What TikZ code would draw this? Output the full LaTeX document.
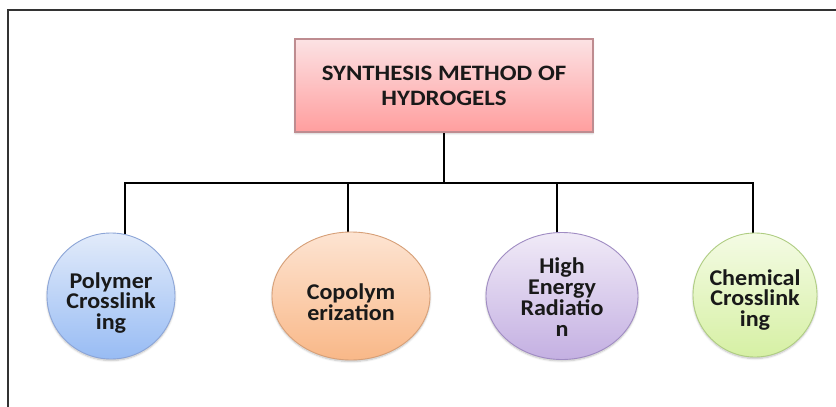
\documentclass[tikz,border=0pt]{standalone}
\usepackage{fontspec}
\setmainfont{Carlito}
\newfontfamily\boxfont[FakeStretch=1.13]{Carlito}
\newfontfamily\ovalfont[FakeStretch=1.07]{Carlito}
\usetikzlibrary{shapes.geometric,shadows.blur,backgrounds,positioning}

\definecolor{pinktop}{RGB}{252,226,228}
\definecolor{pinkbot}{RGB}{255,158,158}
\definecolor{pinkedge}{RGB}{190,140,144}
\definecolor{bluetop}{RGB}{226,235,250}
\definecolor{bluebot}{RGB}{152,188,244}
\definecolor{blueedge}{RGB}{140,165,215}
\definecolor{orangetop}{RGB}{253,228,210}
\definecolor{orangebot}{RGB}{249,184,136}
\definecolor{orangeedge}{RGB}{215,160,120}
\definecolor{purpletop}{RGB}{240,234,247}
\definecolor{purplebot}{RGB}{196,176,226}
\definecolor{purpleedge}{RGB}{160,140,195}
\definecolor{greentop}{RGB}{244,251,228}
\definecolor{greenbot}{RGB}{214,240,164}
\definecolor{greenedge}{RGB}{175,205,130}

\begin{document}
\begin{tikzpicture}[x=1pt, y=-1pt,
    method/.style={draw, ellipse, line width=0.9pt, inner sep=0pt,
        blur shadow={shadow xshift=0pt, shadow yshift=-1.5pt, shadow opacity=25, shadow blur steps=6}},
    methodtext/.style={inner sep=0pt, align=center, text=black!90,
        font=\ovalfont\fontsize{22.5}{20.8}\selectfont\bfseries},
    branch/.style={line width=2.8pt, line join=miter}]

    \useasboundingbox (0,0) rectangle (836,407);
    \draw [line width=1.6pt, black!80] (8,407) -- (8,10) -- (836,10);

    \node (synth) [draw=pinkedge, line width=1.2pt, top color=pinktop, bottom color=pinkbot,
    minimum width=298pt, minimum height=93pt, align=center, text=black!90,
    font=\boxfont\fontsize{22}{25}\selectfont\bfseries,
    blur shadow={shadow xshift=0pt, shadow yshift=-1.5pt, shadow opacity=20, shadow blur steps=6}]
    at (444,85.5) {SYNTHESIS METHOD OF\\HYDROGELS};

    \node (poly) [method, draw=blueedge, top color=bluetop, bottom color=bluebot,
    minimum width=128pt, minimum height=126pt,
    label={[methodtext, yshift=-7pt]center:{Polymer\\Crosslink\\ing}}] at (111,296) {};

    \node (copo) [method, draw=orangeedge, top color=orangetop, bottom color=orangebot,
    minimum width=158pt, minimum height=128pt,
    label={[methodtext, yshift=-6pt]center:{Copolym\\erization}}] at (351,296) {};

    \node (high) [method, draw=purpleedge, top color=purpletop, bottom color=purplebot,
    minimum width=152pt, minimum height=127pt,
    label={[methodtext, yshift=-1pt]center:{High\\Energy\\Radiatio\\n}}] at (562,296) {};

    \node (chem) [method, draw=greenedge, top color=greentop, bottom color=greenbot,
    minimum width=124pt, minimum height=124pt,
    label={[methodtext, yshift=-5pt]center:{Chemical\\Crosslink\\ing}}] at (755,295) {};

    \coordinate (j1) at (125,183);
    \coordinate (j2) at (348,183);
    \coordinate (j3) at (557,183);
    \coordinate (j4) at (753,183);

    \begin{scope}[on background layer]
        \draw [branch] (j1 |- poly.center) -- (j1) -- (j4) -- (j4 |- chem.center);
        \draw [branch] (j2) -- (j2 |- copo.center);
        \draw [branch] (j3) -- (j3 |- high.center);
        \draw [branch] (synth.center) -- (synth.center |- j1);
    \end{scope}
\end{tikzpicture}
\end{document}
